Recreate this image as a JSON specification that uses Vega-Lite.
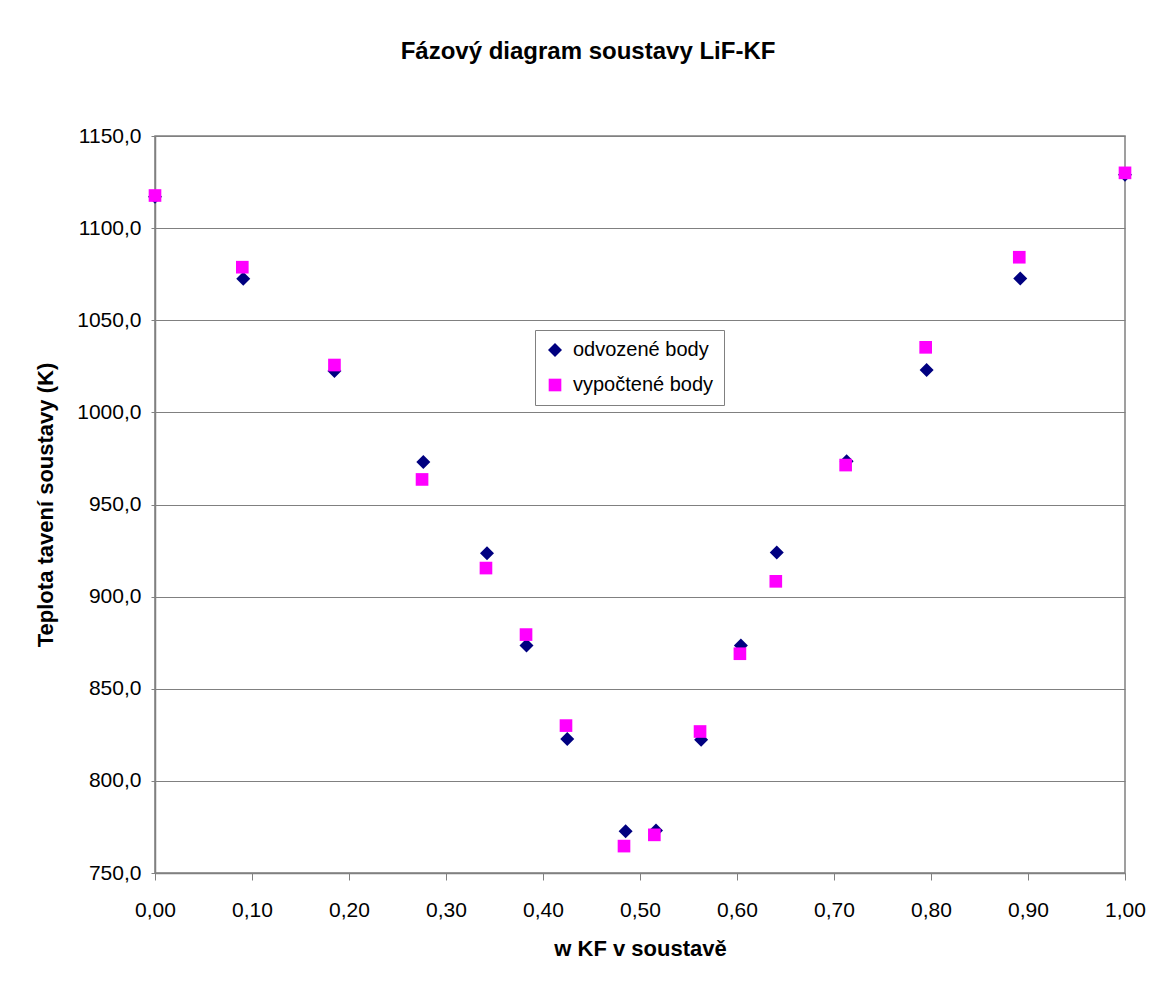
{
  "$schema": "https://vega.github.io/schema/vega-lite/v6.json",
  "width": 970,
  "height": 737,
  "autosize": "none",
  "padding": {"left": 155, "top": 136, "right": 31, "bottom": 112},
  "background": "white",
  "title": {
    "text": "Fázový diagram soustavy LiF-KF",
    "font": "Liberation Sans",
    "fontSize": 24,
    "fontWeight": "bold",
    "color": "black",
    "anchor": "middle",
    "frame": "group",
    "dx": -52,
    "offset": 61
  },
  "data": {
    "values": [
      {"series": "odvozené body", "w": 0.000, "T": 1117},
      {"series": "odvozené body", "w": 0.091, "T": 1072.5},
      {"series": "odvozené body", "w": 0.185, "T": 1022.5},
      {"series": "odvozené body", "w": 0.2766, "T": 973},
      {"series": "odvozené body", "w": 0.3423, "T": 923.5},
      {"series": "odvozené body", "w": 0.383, "T": 873.5},
      {"series": "odvozené body", "w": 0.425, "T": 822.7},
      {"series": "odvozené body", "w": 0.4852, "T": 772.7},
      {"series": "odvozené body", "w": 0.5165, "T": 773},
      {"series": "odvozené body", "w": 0.563, "T": 822.3},
      {"series": "odvozené body", "w": 0.604, "T": 873.5},
      {"series": "odvozené body", "w": 0.641, "T": 924},
      {"series": "odvozené body", "w": 0.713, "T": 973.5},
      {"series": "odvozené body", "w": 0.7955, "T": 1023},
      {"series": "odvozené body", "w": 0.892, "T": 1072.7},
      {"series": "odvozené body", "w": 1.000, "T": 1129},
      {"series": "vypočtené body", "w": 0.000, "T": 1117.7},
      {"series": "vypočtené body", "w": 0.090, "T": 1078.8},
      {"series": "vypočtené body", "w": 0.185, "T": 1025.7},
      {"series": "vypočtené body", "w": 0.2753, "T": 963.6},
      {"series": "vypočtené body", "w": 0.3412, "T": 915.5},
      {"series": "vypočtené body", "w": 0.3825, "T": 879.4},
      {"series": "vypočtené body", "w": 0.4237, "T": 830},
      {"series": "vypočtené body", "w": 0.4835, "T": 764.6},
      {"series": "vypočtené body", "w": 0.5148, "T": 770.7},
      {"series": "vypočtené body", "w": 0.5619, "T": 826.8},
      {"series": "vypočtené body", "w": 0.603, "T": 869},
      {"series": "vypočtené body", "w": 0.640, "T": 908.3},
      {"series": "vypočtené body", "w": 0.712, "T": 971.4},
      {"series": "vypočtené body", "w": 0.7945, "T": 1035.3},
      {"series": "vypočtené body", "w": 0.891, "T": 1084.2},
      {"series": "vypočtené body", "w": 1.000, "T": 1130}
    ]
  },
  "mark": {"type": "point", "filled": true, "opacity": 1, "strokeWidth": 0, "clip": false},
  "encoding": {
    "x": {
      "field": "w",
      "type": "quantitative",
      "scale": {"domain": [0, 1], "nice": false, "zero": false},
      "axis": {
        "title": "w  KF v soustavě",
        "values": [0, 0.1, 0.2, 0.3, 0.4, 0.5, 0.6, 0.7, 0.8, 0.9, 1.0],
        "labelExpr": "replace(format(datum.value, '.2f'), '.', ',')",
        "labelFlush": false,
        "labelOverlap": false,
        "grid": false,
        "tickSize": 7,
        "labelPadding": 19,
        "titlePadding": 18
      }
    },
    "y": {
      "field": "T",
      "type": "quantitative",
      "scale": {"domain": [750, 1150], "nice": false, "zero": false},
      "axis": {
        "title": "Teplota tavení soustavy (K)",
        "values": [750, 800, 850, 900, 950, 1000, 1050, 1100, 1150],
        "labelExpr": "replace(format(datum.value, '.1f'), '.', ',')",
        "labelFlush": false,
        "labelOverlap": false,
        "grid": true,
        "tickSize": 4,
        "labelPadding": 10,
        "titlePadding": 19
      }
    },
    "color": {
      "field": "series",
      "type": "nominal",
      "scale": {"domain": ["odvozené body", "vypočtené body"], "range": ["#000080", "#FF00FF"]},
      "legend": {
        "title": null,
        "orient": "none",
        "legendX": 380,
        "legendY": 194,
        "direction": "vertical"
      }
    },
    "shape": {
      "field": "series",
      "type": "nominal",
      "scale": {"domain": ["odvozené body", "vypočtené body"], "range": ["diamond", "square"]}
    },
    "size": {
      "field": "series",
      "type": "nominal",
      "scale": {"domain": ["odvozené body", "vypočtené body"], "range": [196, 160]},
      "legend": null
    }
  },
  "config": {
    "font": "Liberation Sans",
    "view": {"stroke": "#808080", "strokeWidth": 1.5},
    "axis": {
      "domainColor": "#808080",
      "domainWidth": 1.5,
      "tickColor": "#808080",
      "gridColor": "#808080",
      "gridWidth": 1,
      "labelFont": "Liberation Sans",
      "labelFontSize": 21,
      "labelColor": "black",
      "titleFont": "Liberation Sans",
      "titleFontSize": 22,
      "titleFontWeight": "bold",
      "titleColor": "black"
    },
    "legend": {
      "labelFont": "Liberation Sans",
      "labelFontSize": 20,
      "labelColor": "black",
      "strokeColor": "#808080",
      "fillColor": "white",
      "padding": 10,
      "rowPadding": 15,
      "symbolSize": 110,
      "symbolStrokeWidth": 0,
      "labelOffset": 8
    }
  }
}
